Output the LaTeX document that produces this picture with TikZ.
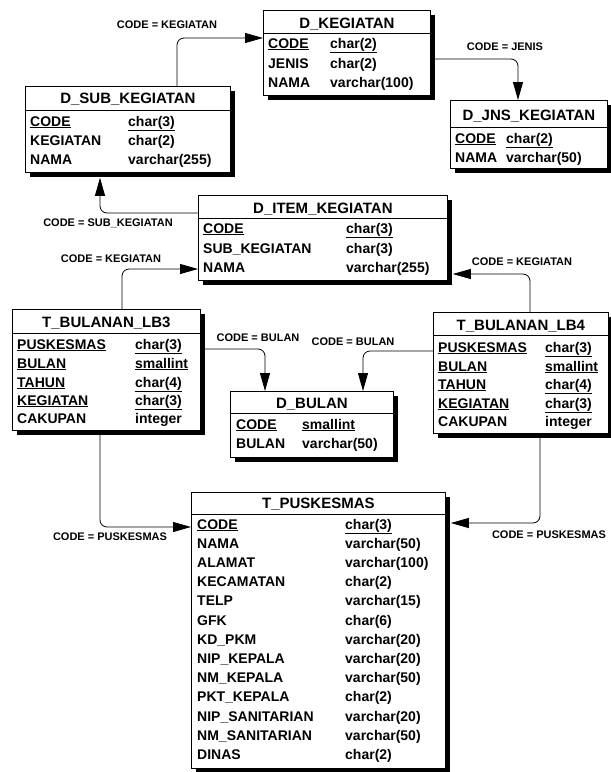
\documentclass[tikz,border=0pt]{standalone}
\usepackage{fontspec}
\setmainfont{Liberation Sans}
\usetikzlibrary{arrows.meta,shadows}
\newcommand\fld[6]{\node[fld] (#1a) at (#2,#4) {#5};\node[fld] (#1b) at (#3,#4) {#6};}
\newcommand\ul[1]{\underline{#1}}
\begin{document}
\begin{tikzpicture}[x=1pt,y=-1pt,
  tbl/.style={draw,fill=white,line width=0.8pt,inner sep=0pt,anchor=north west,
    general shadow={fill=black,shadow xshift=5pt,shadow yshift=-5pt}},
  sepline/.style={line width=0.6pt},
  ttl/.style={font=\fontsize{15}{15}\selectfont\bfseries,inner sep=0pt,anchor=base},
  fld/.style={font=\fontsize{14}{14}\selectfont\bfseries,inner sep=0pt,anchor=base west},
  lbl/.style={font=\fontsize{11}{11}\selectfont\bfseries,inner sep=0pt},
  rel/.style={draw,line width=0.8pt,rounded corners=7pt,-{Triangle[length=18pt,width=10pt]}}]
\useasboundingbox (0,0) rectangle (611,772);

% D_KEGIATAN
\node[tbl,minimum width=167pt,minimum height=85pt] (keg) at (263,10) {};
\draw[sepline] (keg.west |- 0,33) -- (keg.east |- 0,33);
\node[ttl] (kegT) at (keg.north |- 0,28.5) {D\_KEGIATAN};
\fld{keg1}{268}{330}{48}{\ul{CODE}}{\ul{char(2)}}
\fld{keg2}{268}{330}{68}{JENIS}{char(2)}
\fld{keg3}{268}{330}{87}{NAMA}{varchar(100)}

% D_SUB_KEGIATAN
\node[tbl,minimum width=205pt,minimum height=86pt] (sub) at (25,86) {};
\draw[sepline] (sub.west |- 0,110) -- (sub.east |- 0,110);
\node[ttl] (subT) at (sub.north |- 0,103.5) {D\_SUB\_KEGIATAN};
\fld{sub1}{30}{128}{126}{\ul{CODE}}{\ul{char(3)}}
\fld{sub2}{30}{128}{145}{KEGIATAN}{char(2)}
\fld{sub3}{30}{128}{164}{NAMA}{varchar(255)}

% D_JNS_KEGIATAN
\node[tbl,minimum width=157pt,minimum height=68pt] (jns) at (450,100) {};
\draw[sepline] (jns.west |- 0,127) -- (jns.east |- 0,127);
\node[ttl] (jnsT) at (jns.north |- 0,120.5) {D\_JNS\_KEGIATAN};
\fld{jns1}{455}{506}{143}{\ul{CODE}}{\ul{char(2)}}
\fld{jns2}{455}{506}{162}{NAMA}{varchar(50)}

% D_ITEM_KEGIATAN
\node[tbl,minimum width=249pt,minimum height=85pt] (item) at (198,195) {};
\draw[sepline] (item.west |- 0,218) -- (item.east |- 0,218);
\node[ttl] (itemT) at (item.north |- 0,213.5) {D\_ITEM\_KEGIATAN};
\fld{item1}{203}{346}{233}{\ul{CODE}}{\ul{char(3)}}
\fld{item2}{203}{346}{253}{SUB\_KEGIATAN}{char(3)}
\fld{item3}{203}{346}{272}{NAMA}{varchar(255)}

% T_BULANAN_LB3
\node[tbl,minimum width=188pt,minimum height=121pt] (lb3) at (12,309) {};
\draw[sepline] (lb3.west |- 0,333) -- (lb3.east |- 0,333);
\node[ttl] (lb3T) at (lb3.north |- 0,327.5) {T\_BULANAN\_LB3};
\fld{lbA1}{17}{135}{349}{\ul{PUSKESMAS}}{\ul{char(3)}}
\fld{lbA2}{17}{135}{368}{\ul{BULAN}}{\ul{smallint}}
\fld{lbA3}{17}{135}{387}{\ul{TAHUN}}{\ul{char(4)}}
\fld{lbA4}{17}{135}{405}{\ul{KEGIATAN}}{\ul{char(3)}}
\fld{lbA5}{17}{135}{423}{CAKUPAN}{integer}

% T_BULANAN_LB4
\node[tbl,minimum width=175pt,minimum height=121pt] (lb4) at (433,312) {};
\draw[sepline] (lb4.west |- 0,335) -- (lb4.east |- 0,335);
\node[ttl] (lb4T) at (lb4.north |- 0,330.5) {T\_BULANAN\_LB4};
\fld{lbB1}{438}{545}{352}{\ul{PUSKESMAS}}{\ul{char(3)}}
\fld{lbB2}{438}{545}{371}{\ul{BULAN}}{\ul{smallint}}
\fld{lbB3}{438}{545}{389}{\ul{TAHUN}}{\ul{char(4)}}
\fld{lbB4}{438}{545}{408}{\ul{KEGIATAN}}{\ul{char(3)}}
\fld{lbB5}{438}{545}{426}{CAKUPAN}{integer}

% D_BULAN
\node[tbl,minimum width=163pt,minimum height=66pt] (bulan) at (230,391) {};
\draw[sepline] (bulan.west |- 0,413) -- (bulan.east |- 0,413);
\node[ttl] (bulanT) at (bulan.north |- 0,408.5) {D\_BULAN};
\fld{bul1}{236}{302}{429}{\ul{CODE}}{\ul{smallint}}
\fld{bul2}{236}{302}{448}{BULAN}{varchar(50)}

% T_PUSKESMAS
\node[tbl,minimum width=254pt,minimum height=276pt] (pusk) at (191,492) {};
\draw[sepline] (pusk.west |- 0,514) -- (pusk.east |- 0,514);
\node[ttl] (puskT) at (pusk.north |- 0,508.5) {T\_PUSKESMAS};
\fld{pk1}{197}{345}{529}{\ul{CODE}}{\ul{char(3)}}
\fld{pk2}{197}{345}{548.2}{NAMA}{varchar(50)}
\fld{pk3}{197}{345}{567.4}{ALAMAT}{varchar(100)}
\fld{pk4}{197}{345}{586.6}{KECAMATAN}{char(2)}
\fld{pk5}{197}{345}{605.8}{TELP}{varchar(15)}
\fld{pk6}{197}{345}{625}{GFK}{char(6)}
\fld{pk7}{197}{345}{644.2}{KD\_PKM}{varchar(20)}
\fld{pk8}{197}{345}{663.4}{NIP\_KEPALA}{varchar(20)}
\fld{pk9}{197}{345}{682.6}{NM\_KEPALA}{varchar(50)}
\fld{pk10}{197}{345}{701.8}{PKT\_KEPALA}{char(2)}
\fld{pk11}{197}{345}{721}{NIP\_SANITARIAN}{varchar(20)}
\fld{pk12}{197}{345}{740.2}{NM\_SANITARIAN}{varchar(50)}
\fld{pk13}{197}{345}{759.4}{DINAS}{char(2)}

% helper coordinates on shadow edges
\coordinate (itemR) at ([xshift=5pt]item.east);
\coordinate (puskR) at ([xshift=5pt]pusk.east);

% connectors
\draw[rel] ([xshift=152pt]sub.north west) |- (keg.west |- 0,38);
\draw[rel] (keg.east |- 0,59) -| ([xshift=68pt]jns.north west);
\draw[rel] (item.west |- 0,213) -| ([xshift=75pt,yshift=-5pt]sub.south west);
\draw[rel] ([xshift=110pt]lb3.north west) |- (item.west |- 0,269);
\draw[rel] ([xshift=97pt]lb4.north west) |- (itemR |- 0,274);
\draw[rel] (lb3.east |- 0,349) -| ([xshift=35pt]bulan.north west);
\draw[rel] (lb4.west |- 0,351) -| ([xshift=133pt]bulan.north west);
\draw[rel] ([xshift=88pt]lb3.south west) |- (pusk.west |- 0,527);
\draw[rel] ([xshift=107pt]lb4.south west) |- (puskR |- 0,523);

% labels
\node[lbl] (l1) at (167,25) {CODE = KEGIATAN};
\node[lbl] (l2) at (505,47) {CODE = JENIS};
\node[lbl] (l3) at (108,223) {CODE = SUB\_KEGIATAN};
\node[lbl] (l4) at (111,259) {CODE = KEGIATAN};
\node[lbl] (l5) at (522,262) {CODE = KEGIATAN};
\node[lbl] (l6) at (258,338) {CODE = BULAN};
\node[lbl] (l7) at (353,342) {CODE = BULAN};
\node[lbl] (l8) at (110,537) {CODE = PUSKESMAS};
\node[lbl] (l9) at (549,535) {CODE = PUSKESMAS};
\end{tikzpicture}
\end{document}
